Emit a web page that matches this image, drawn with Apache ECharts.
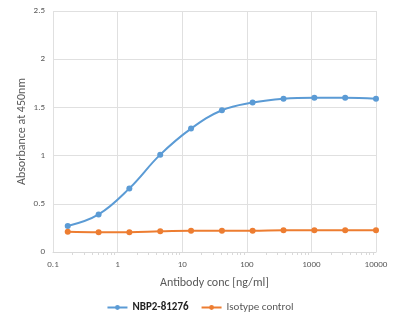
<!DOCTYPE html>
<html><head><meta charset="utf-8">
<script src="https://cdn.jsdelivr.net/npm/echarts@6/dist/echarts.min.js"></script>
<style>html,body{margin:0;padding:0;background:#fff}#c{width:400px;height:325px}</style>
</head><body><div id="c"></div>
<script>
var conc = [0.169, 0.508, 1.52, 4.57, 13.7, 41.2, 123, 370, 1111, 3333, 10000];
var nbp = [0.27, 0.39, 0.66, 1.01, 1.28, 1.47, 1.55, 1.59, 1.60, 1.60, 1.59];
var iso = [0.21, 0.205, 0.205, 0.215, 0.22, 0.22, 0.22, 0.225, 0.225, 0.225, 0.225];
var seriesNames = ['NBP2-81276', 'Isotype control'];
var xTitle = 'Antibody conc [ng/ml]';
var yTitle = 'Absorbance at 450nm';

function pairs(v){ return conc.map(function(c,i){return [c, v[i]];}); }
var font = 'Carlito, Calibri, "Liberation Sans", sans-serif';
var chart = echarts.init(document.getElementById('c'));
chart.setOption({
  animation:false,
  textStyle:{fontFamily:font},
  grid:{left:53, right:24, top:11, bottom:73},
  legend:{bottom:7, left:'center', itemGap:12, itemWidth:20, itemHeight:6,
    textStyle:{fontSize:11, color:'#595959', fontFamily:font},
    data:[{name:seriesNames[0], textStyle:{color:'#222', fontWeight:'bold'}},
          {name:seriesNames[1]}]},
  xAxis:{type:'log', logBase:10, min:0.1, max:10000,
    name:xTitle, nameLocation:'middle', nameGap:25, nameMoveOverlap:false,
    nameTextStyle:{fontSize:12, color:'#595959'},
    axisLine:{show:true, lineStyle:{color:'#d9d9d9'}},
    axisTick:{show:false},
    minorTick:{show:true, splitNumber:9, length:3, lineStyle:{color:'#d9d9d9'}},
    axisLabel:{fontSize:9, color:'#595959', margin:8,
      formatter:function(v){ return String(v); }},
    splitLine:{show:true, lineStyle:{color:'#e0e0e0'}}},
  yAxis:{type:'value', min:0, max:2.5, interval:0.5,
    name:yTitle, nameLocation:'middle', nameGap:25, nameMoveOverlap:false,
    nameTextStyle:{fontSize:12, color:'#595959'},
    axisLine:{show:false}, axisTick:{show:false},
    axisLabel:{fontSize:9, color:'#595959', margin:8},
    splitLine:{show:true, lineStyle:{color:'#e0e0e0'}}},
  series:[
    {name:seriesNames[0], type:'line', smooth:0.4, data:pairs(nbp),
      symbol:'circle', symbolSize:6, lineStyle:{width:2, color:'#5B9BD5'},
      itemStyle:{color:'#5B9BD5'}},
    {name:seriesNames[1], type:'line', smooth:0.4, data:pairs(iso),
      symbol:'circle', symbolSize:6, lineStyle:{width:2, color:'#ED7D31'},
      itemStyle:{color:'#ED7D31'}}
  ]
});
</script></body></html>
